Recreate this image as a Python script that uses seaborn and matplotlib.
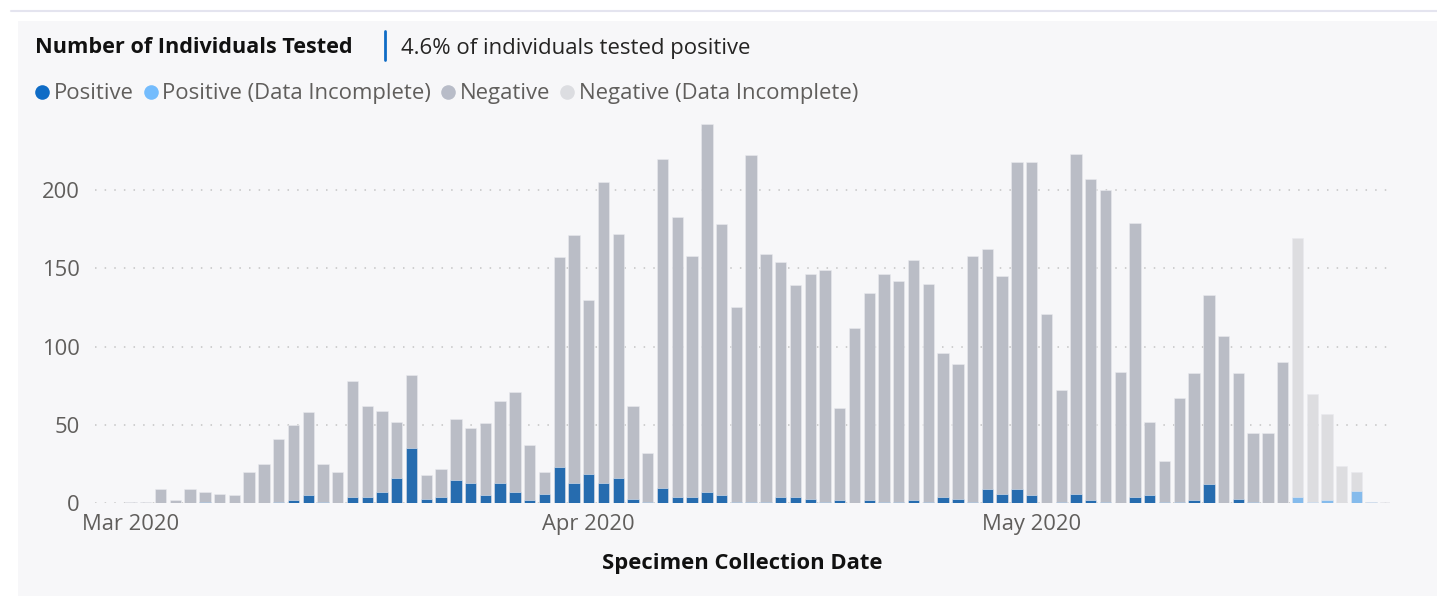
import pandas as pd
import matplotlib.pyplot as plt
import seaborn as sns
from matplotlib.lines import Line2D
from matplotlib.patches import Rectangle

# Daily counts, 1 Mar 2020 .. 25 May 2020
start_date = '2020-03-01'
total_tested = [
    1, 1, 9, 2, 9, 7, 6, 5, 20, 25,
    41, 50, 58, 25, 20, 78, 62, 59, 52, 82,
    18, 22, 54, 48, 51, 65, 71, 37, 20, 157,
    171, 130, 205, 172, 62, 32, 220, 183, 158, 242,
    178, 125, 222, 159, 154, 139, 146, 149, 61, 112,
    134, 146, 142, 155, 140, 96, 89, 158, 162, 145,
    218, 218, 121, 72, 223, 207, 200, 84, 179, 52,
    27, 67, 83, 133, 107, 83, 45, 45, 90, 169,
    70, 57, 24, 20, 1, 1,
]
positive = [
    0, 0, 0, 0, 0, 1, 0, 0, 0, 0,
    1, 2, 5, 1, 0, 4, 4, 7, 16, 35,
    3, 4, 15, 13, 5, 13, 7, 2, 6, 23,
    13, 19, 13, 16, 3, 1, 10, 4, 4, 7,
    5, 1, 1, 1, 4, 4, 3, 1, 2, 0,
    2, 1, 1, 2, 1, 4, 3, 1, 9, 6,
    9, 5, 0, 1, 6, 2, 1, 0, 4, 5,
    1, 1, 2, 12, 0, 3, 1, 0, 0, 4,
    1, 2, 0, 8, 1, 0,
]
# data is incomplete from this date on
incomplete_from = '2020-05-19'

legend_labels = ['Positive', 'Positive (Data Incomplete)',
                 'Negative', 'Negative (Data Incomplete)']
month_ticks = ['2020-03-01', '2020-04-01', '2020-05-01']
month_labels = ['Mar 2020', 'Apr 2020', 'May 2020']
y_ticks = [0, 50, 100, 150, 200]

POS = '#0f6cc6'
POS_INC = '#74bcfd'
NEG = '#b8bcc8'
NEG_INC = '#dcdde1'
PANEL = '#f7f7f9'
GREY_TXT = '#605e5c'

dates = pd.date_range(start_date, periods=len(total_tested), freq='D')
df = pd.DataFrame({'date': dates, 'total': total_tested, 'positive': positive})
df['day'] = (df['date'] - dates[0]).dt.days
df['status'] = ['Incomplete' if d >= pd.Timestamp(incomplete_from) else 'Complete'
                for d in df['date']]

sns.set_style('white')
plt.rcParams['font.family'] = ['Open Sans', 'DejaVu Sans']

W, H = 1437, 596
fig = plt.figure(figsize=(W / 100, H / 100), dpi=100)
fig.patch.set_facecolor('white')

# card background + thin top rule
fig.add_artist(Rectangle((18 / W, 0), 1 - 18 / W, 1 - 21 / H,
                         transform=fig.transFigure, facecolor=PANEL,
                         edgecolor='none', zorder=-10))
fig.add_artist(Line2D([11 / W, 1], [1 - 10.5 / H] * 2, color='#e4e4ef', lw=1.5))

ax = fig.add_axes([95 / W, 1 - 503.3 / H, (1390 - 95) / W, (503.3 - 111.5) / H])
ax.set_facecolor(PANEL)

bar_kw = dict(x='day', hue='status', dodge=False, native_scale=True,
              width=0.77, errorbar=None, legend=False, ax=ax,
              edgecolor='#e9eaef', linewidth=0.4)
sns.barplot(data=df, y='total',
            palette={'Complete': NEG, 'Incomplete': NEG_INC}, **bar_kw)
sns.barplot(data=df, y='positive',
            palette={'Complete': POS, 'Incomplete': POS_INC}, **bar_kw)

ax.set_xlim(-2.44, 85.27)
ax.set_ylim(0, 250)
ax.set_yticks(y_ticks)
ax.set_xticks([(pd.Timestamp(m) - dates[0]).days for m in month_ticks])
ax.set_xticklabels(month_labels)
ax.tick_params(axis='both', length=0, labelsize=15.8, labelcolor=GREY_TXT)
ax.tick_params(axis='y', pad=11)
ax.tick_params(axis='x', pad=8)
for s in ax.spines.values():
    s.set_visible(False)
ax.grid(axis='y', color='#c4c4c4', linestyle=(0, (1, 5.3)), lw=1.1)
ax.set_axisbelow(True)
ax.set_ylabel('')
ax.set_xlabel('Specimen Collection Date', fontsize=15.8, fontweight='bold',
              color='#111111', labelpad=13)

# header
fig.text(35 / W, 1 - 47.5 / H, 'Number of Individuals Tested', fontsize=15.6,
         fontweight='bold', color='#111111', va='center')
fig.add_artist(Line2D([385 / W] * 2, [1 - 31 / H, 1 - 60 / H], color=POS, lw=2))
fig.text(401 / W, 1 - 48.5 / H, '4.6% of individuals tested positive',
         fontsize=15.9, color='#252423', va='center')

handles = [Line2D([], [], marker='o', linestyle='none', markersize=10.5,
                  markerfacecolor=c, markeredgecolor='none')
           for c in [POS, POS_INC, NEG, NEG_INC]]
fig.legend(handles, legend_labels, loc='center left',
           bbox_to_anchor=(35 / W, 1 - 94 / H), ncol=4, frameon=False,
           fontsize=15.9, labelcolor=GREY_TXT, handlelength=0.65,
           handletextpad=0.2, columnspacing=0.45, borderpad=0, borderaxespad=0)

fig.savefig('out.png', dpi=100)
